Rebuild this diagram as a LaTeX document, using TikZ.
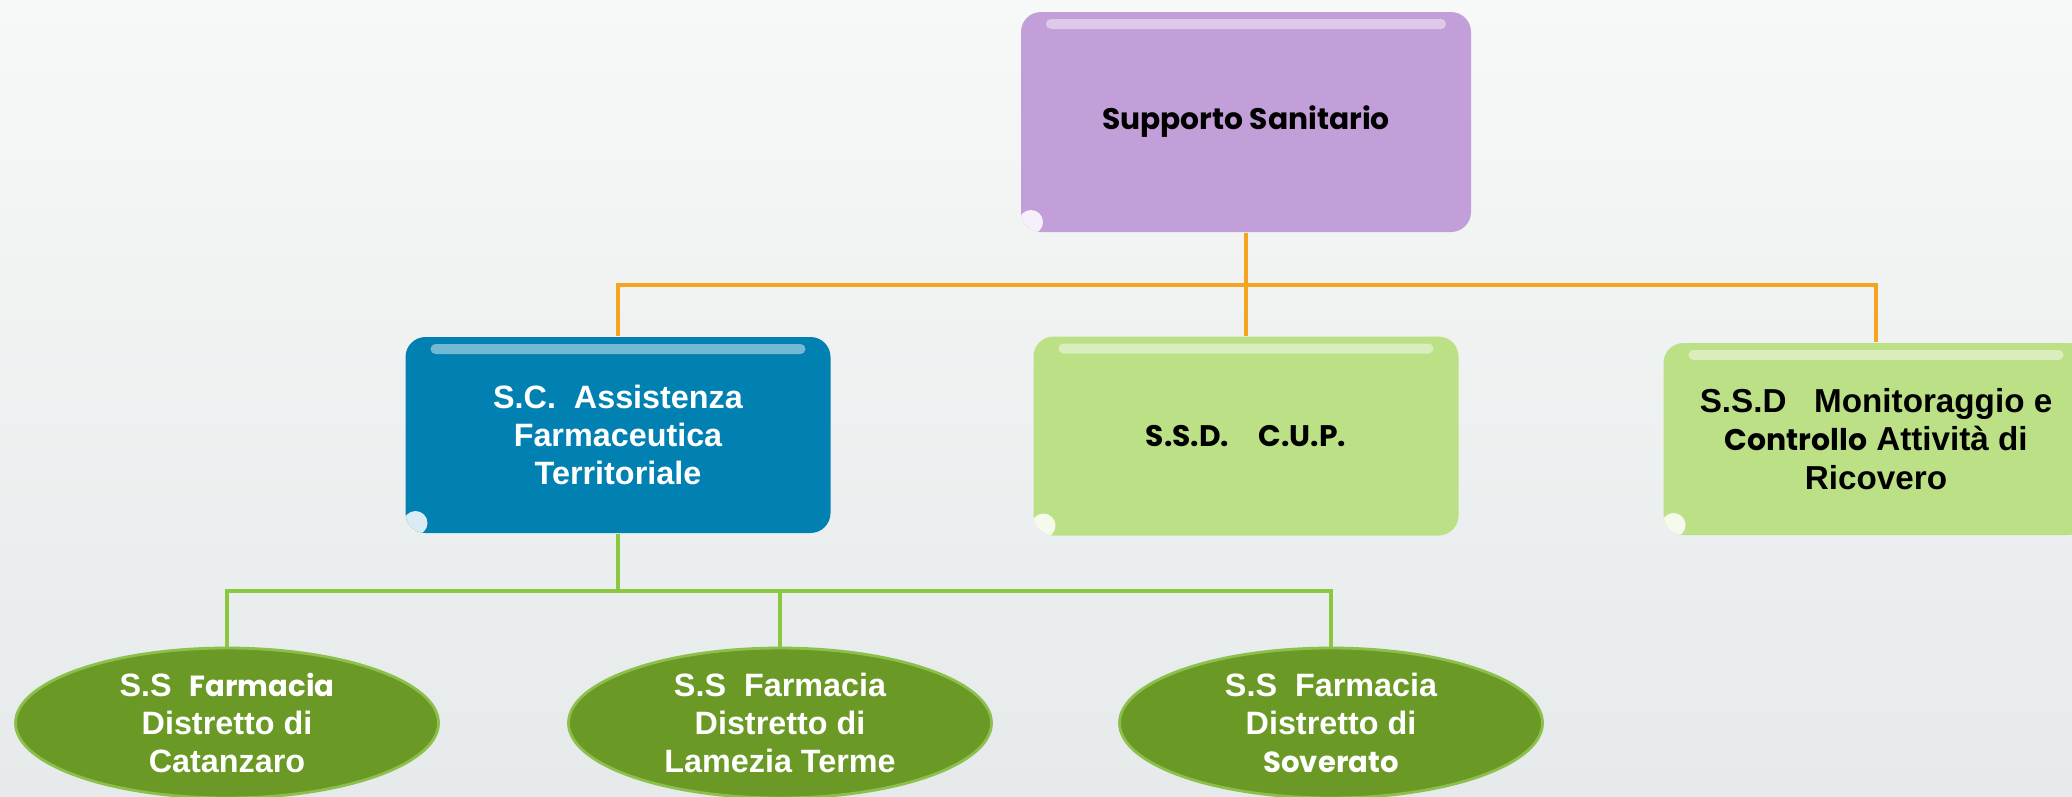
\documentclass[tikz,border=0pt]{standalone}
\usepackage{fontspec}
\setmainfont{Liberation Sans}
\newfontfamily\geo[Scale=0.9]{Poppins}
\usetikzlibrary{shapes.geometric}
\usetikzlibrary{calc}
\usepackage{xcolor}

\definecolor{lila}{HTML}{C29FD8}
\definecolor{azzurro}{HTML}{0181B2}
\definecolor{verdechiaro}{HTML}{BCE085}
\definecolor{verdescuro}{HTML}{6A9A25}
\definecolor{bordoverde}{HTML}{8DBF4C}
\definecolor{arancio}{HTML}{F4A41F}
\definecolor{lineaverde}{HTML}{8CC83F}
\definecolor{sfondoalto}{HTML}{F7F8F8}
\definecolor{sfondobasso}{HTML}{E6EAEA}

\begin{document}
\begin{tikzpicture}
        \tikzstyle{boxnode}=[rectangle, rounded corners=0.2cm, minimum width=4.25cm, minimum height=1.95cm, align=center, inner sep=2pt,
            font=\bfseries\fontsize{9.2}{10.9}\selectfont,
            path picture={
                \fill[white, opacity=0.45, rounded corners=0.05cm] ([xshift=0.25cm, yshift=-0.07cm]path picture bounding box.north west) rectangle ([xshift=-0.25cm, yshift=-0.17cm]path picture bounding box.north east);
                \fill[white, opacity=0.85] ([xshift=0.1cm, yshift=0.1cm]path picture bounding box.south west) circle (0.12cm);
            }]
        \tikzstyle{leafnode}=[ellipse, minimum width=4.23cm, minimum height=1.5cm, fill=verdescuro, draw=bordoverde, line width=0.8pt, text=white, align=center, inner xsep=0pt, inner ysep=-3mm,
            font=\bfseries\fontsize{9.2}{10.8}\selectfont]
        \tikzstyle{oline}=[draw=arancio, line width=0.9pt]
        \tikzstyle{gline}=[draw=lineaverde, line width=0.9pt]

        % sfondo
        \clip (0,0) rectangle (20.72,-7.96);
        \shade[top color=sfondoalto, bottom color=sfondobasso] (0,0) rectangle (20.72,-7.96);

        % livello 1
        \node[boxnode, fill=lila, minimum width=4.5cm, minimum height=2.2cm, font=\geo\bfseries\fontsize{9.4}{11}\selectfont] (supporto) at (12.46,-1.22) {Supporto Sanitario};

        % livello 2
        \node[boxnode, fill=azzurro, text=white, minimum height=1.96cm] (farmaceutica) at (6.18,-4.35) {S.C.\ \ Assistenza\\Farmaceutica\\Territoriale};
        \node[boxnode, fill=verdechiaro, minimum height=1.99cm, font=\geo\bfseries\fontsize{9.4}{11}\selectfont] (cup) at (12.46,-4.36) {S.S.D.\quad C.U.P.};
        \node[boxnode, fill=verdechiaro, minimum height=1.92cm, font=\bfseries\fontsize{9.45}{11}\selectfont] (monitoraggio) at (18.76,-4.39) {S.S.D\ \ \ Monitoraggio e\\{\geo Controllo} Attività di\\Ricovero};

        % livello 3
        \node[leafnode] (catanzaro) at (2.27,-7.23) {S.S\ \ {\geo Farmacia}\\Distretto di\\Catanzaro};
        \node[leafnode] (lamezia) at (7.80,-7.23) {S.S\ \ Farmacia\\Distretto di\\Lamezia Terme};
        \node[leafnode] (soverato) at (13.31,-7.23) {S.S\ \ Farmacia\\Distretto di\\{\geo Soverato}};

        % collegamenti
        \coordinate (obus) at (12.46,-2.85);
        \coordinate (gbus) at (6.18,-5.91);
        \draw[oline] (supporto.south) -- (obus) -| (farmaceutica.north);
        \draw[oline] (obus) -| (cup.north);
        \draw[oline] (obus) -| (monitoraggio.north);
        \foreach \e in {catanzaro,lamezia,soverato} {
            \draw[gline] (farmaceutica.south) -- (gbus) -| (\e.north);
        }
    \end{tikzpicture}
\end{document}
